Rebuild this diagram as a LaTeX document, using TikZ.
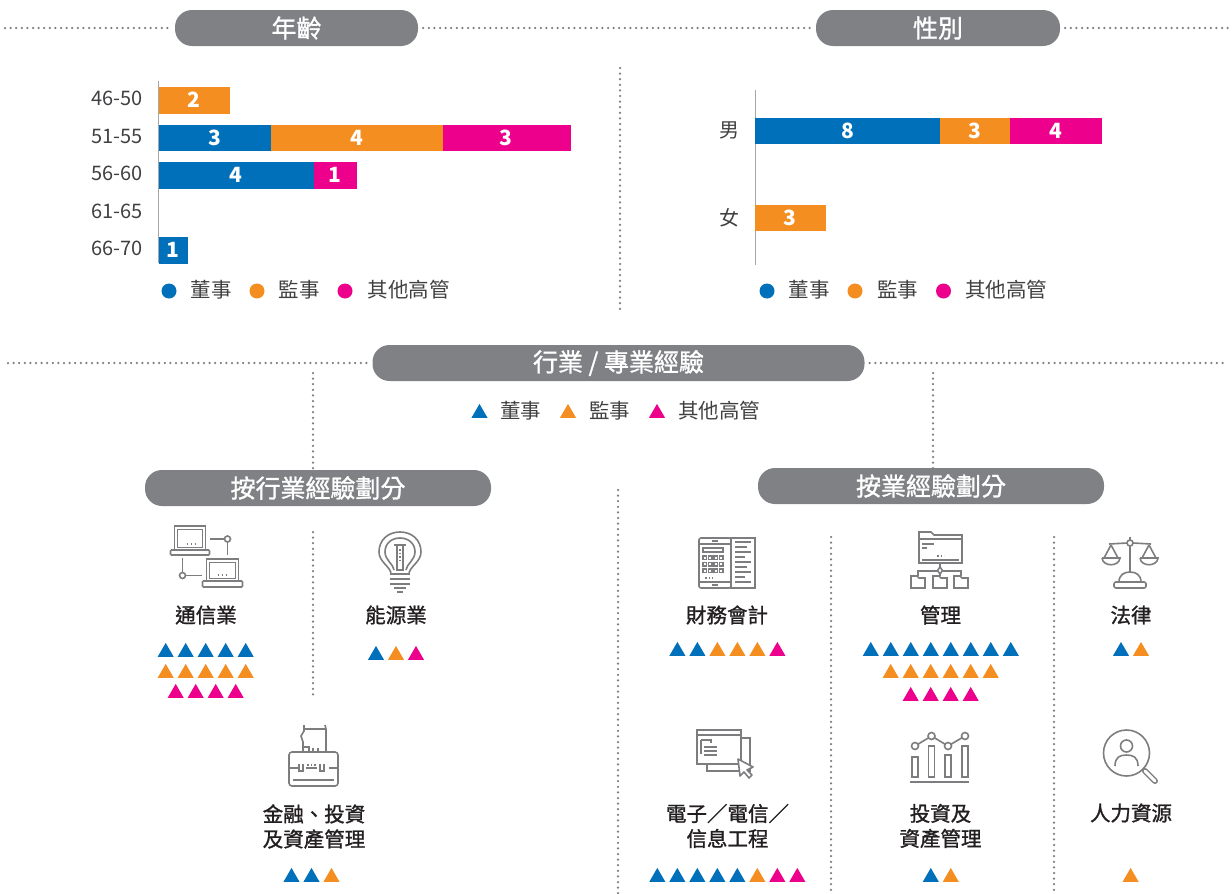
\documentclass[tikz,border=0pt]{standalone}
\usepackage{fontspec}
\setmainfont{Noto Sans CJK TC}
\newfontfamily\medfont{Noto Sans CJK TC}[FakeBold=1.2]
\usetikzlibrary{shapes.geometric}

\definecolor{bl}{RGB}{0,112,186}
\definecolor{og}{RGB}{245,142,32}
\definecolor{mg}{RGB}{236,0,140}
\definecolor{pg}{RGB}{128,129,132}
\definecolor{ic}{RGB}{125,125,128}
\definecolor{tx}{RGB}{35,31,32}
\definecolor{lg}{RGB}{64,64,66}
\definecolor{dt}{RGB}{125,125,130}

\tikzset{
  pill/.style={fill=pg, rounded corners=17pt, text=white, minimum height=36pt, inner sep=0pt, font=\fontsize{25}{28}\medfont},
  bar/.style={fill=#1, draw=#1, line width=0.4pt, anchor=west, minimum height=25.5pt, inner sep=0pt, text=white, font=\fontsize{21}{24}\selectfont\bfseries},
  dots/.style={dt, line width=2.5pt, dash pattern=on 0pt off 5.6pt, line cap=round},
  tri/.style={regular polygon, regular polygon sides=3, minimum size=18.5pt, inner sep=0pt, anchor=south},
  dot/.style={circle, minimum size=15pt, inner sep=0pt},
  leg/.style={text=lg, font=\fontsize{20.5}{24}\selectfont, inner sep=0pt},
  lbl/.style={text=tx, font=\fontsize{20.5}{25}\medfont, align=center, inner sep=0pt},
  ax/.style={text=lg, font=\fontsize{20}{24}\selectfont, inner sep=0pt},
  axis/.style={draw=black!35, line width=1.5pt},
  icon/.style={draw=ic, line width=1.6pt},
}

\newcommand\tris[4]{\foreach \col [count=\i] in {#4} \node[tri, fill=\col] (#1-\i) at ({#2+20*(\i-1)},#3) {};}

\begin{document}
\begin{tikzpicture}[x=1pt, y=-1pt]
\useasboundingbox (0,0) rectangle (1232,894);

\node[pill, minimum width=243pt] (age) at (296.5,28) {年齡};
\node[pill, minimum width=244pt] (sex) at (938,28) {性別};
\coordinate (t0) at (5,28);
\coordinate (t1) at (1229,28);
\draw[dots] (t0) -- ([xshift=-5pt]age.west);
\draw[dots] ([xshift=5pt]age.east) -- ([xshift=-5pt]sex.west);
\draw[dots] ([xshift=5pt]sex.east) -- (t1);
\coordinate (v0) at (620,68);
\coordinate (v1) at (620,313);
\draw[dots] (v0) -- (v1);

\draw[axis] (158.7,81) -- (158.7,263);
\foreach \t [count=\i] in {46-50,51-55,56-60,61-65,66-70}
  \node[ax, anchor=east] (age\i) at (143,{98.5+37.5*(\i-1)}) {\t};
\node[bar=og, minimum width=70.3pt] (a1o) at (158.7,100) {2};
\node[bar=bl, minimum width=112.3pt] (a2b) at (158.7,137.5) {3};
\node[bar=og, minimum width=170.7pt] (a2o) at (a2b.east) {4};
\node[bar=mg, minimum width=127.3pt] (a2m) at (a2o.east) {3};
\node[bar=bl, minimum width=154.8pt] (a3b) at (158.7,175) {4};
\node[bar=mg, minimum width=42.5pt] (a3m) at (a3b.east) {1};
\node[bar=bl, minimum width=27.8pt] (a5b) at (158.7,250) {1};

\node[dot, fill=bl] (ka1) at (169,291) {};
\node[leg] (ka1t) at (211,290) {董事};
\node[dot, fill=og] (ka2) at (257,291) {};
\node[leg] (ka2t) at (299,290) {監事};
\node[dot, fill=mg] (ka3) at (345,291) {};
\node[leg] (ka3t) at (408.5,290) {其他高管};

\draw[axis] (755.3,90) -- (755.3,265);
\node[ax] (male) at (729,130.5) {男};
\node[ax] (female) at (729,217.5) {女};
\node[bar=bl, minimum width=184.3pt] (m1) at (755.3,130.5) {8};
\node[bar=og, minimum width=69.4pt] (m2) at (m1.east) {3};
\node[bar=mg, minimum width=91.4pt] (m3) at (m2.east) {4};
\node[bar=og, minimum width=69.7pt] (f1) at (755.3,217.5) {3};

\node[dot, fill=bl] (kb1) at (767,291) {};
\node[leg] (kb1t) at (809,290) {董事};
\node[dot, fill=og] (kb2) at (855,291) {};
\node[leg] (kb2t) at (897.5,290) {監事};
\node[dot, fill=mg] (kb3) at (943.5,291) {};
\node[leg] (kb3t) at (1006,290) {其他高管};

\node[pill, minimum width=492pt] (exp) at (618.5,363) {行業 / 專業經驗};
\coordinate (e0) at (8,363);
\coordinate (e1) at (1224,363);
\draw[dots] (e0) -- ([xshift=-5pt]exp.west);
\draw[dots] ([xshift=5pt]exp.east) -- (e1);

\node[tri, fill=bl] (kc1) at (479.5,418) {};
\node[leg] (kc1t) at (520.5,411) {董事};
\node[tri, fill=og] (kc2) at (568,418) {};
\node[leg] (kc2t) at (609.5,411) {監事};
\node[tri, fill=mg] (kc3) at (657,418) {};
\node[leg] (kc3t) at (719,411) {其他高管};

\node[pill, minimum width=346pt] (ind) at (318,488) {按行業經驗劃分};
\node[pill, minimum width=346pt] (pro) at (931,486) {按業經驗劃分};
\coordinate (s1) at (313,373);
\coordinate (s2) at (933,373);
\draw[dots] (s1) -- ([yshift=-6pt]s1 |- ind.north);
\draw[dots] (s2) -- ([yshift=-6pt]s2 |- pro.north);
\coordinate (c0) at (618,490);
\coordinate (c1) at (618,894);
\draw[dots] (c0) -- (c1);
\coordinate (c2) at (313,532);
\coordinate (c3) at (313,698);
\draw[dots] (c2) -- (c3);
\coordinate (c4) at (831,537);
\coordinate (c5) at (831,894);
\draw[dots] (c4) -- (c5);
\coordinate (c6) at (1054,537);
\coordinate (c7) at (1054,894);
\draw[dots] (c6) -- (c7);

\begin{scope}[shift={(205.5,556)}, icon]
  \draw (-31,-6) rectangle (0,-30);
  \draw[line width=1pt] (-28,-9) rectangle (-3,-27);
  \draw[dash pattern=on 1.5pt off 2.5pt] (-19,-12) -- (-8,-12);
  \draw[rounded corners=1pt] (-35,-6) rectangle (4,-1);
  \draw (1,3) rectangle (33,25);
  \draw[line width=1pt] (4,6) rectangle (30,22);
  \draw[dash pattern=on 1.5pt off 2.5pt] (12,19) -- (23,19);
  \draw[rounded corners=1pt] (-3,25) rectangle (37,31);
  \draw (4,-17) -- (19,-17);
  \draw (22,-17) circle (3pt);
  \draw (22,-14) -- (22,-1);
  \draw (-23,2) -- (-23,16);
  \draw (-23,19.5) circle (3pt);
  \draw (-20,19.5) -- (-4,19.5);
\end{scope}

\begin{scope}[shift={(400,562)}, icon]
  \draw (-9,12) .. controls (-9,5) and (-21,0) .. (-21,-10) .. controls (-21,-22) and (-12,-30) .. (0,-30) .. controls (12,-30) and (21,-22) .. (21,-10) .. controls (21,0) and (9,5) .. (9,12);
  \draw (-6,8) .. controls (-6,3) and (-15,-2) .. (-15,-10) .. controls (-15,-19) and (-8,-24) .. (0,-24) .. controls (8,-24) and (15,-19) .. (15,-10) .. controls (15,-2) and (6,3) .. (6,8);
  \draw (-6,-17) -- (6,-17);
  \draw (-3,-17) rectangle (3,8);
  \draw[dash pattern=on 1.5pt off 2pt] (0,-13) -- (0,0);
  \draw (-10,12) -- (10,12);
  \draw (-10,17) -- (10,17);
  \draw (-10,22) -- (10,22);
  \draw (-6,26) -- (6,26);
  \draw (-3,30) -- (3,30);
\end{scope}

\begin{scope}[shift={(313,756)}, icon]
  \draw[rounded corners=3pt] (-24,-4) rectangle (25,30);
  \draw (-24,12) -- (-15,12);
  \draw (16,12) -- (25,12);
  \draw (-14,8) -- (-14,15) -- (-10,15) -- (-10,8);
  \draw (7,8) -- (7,15) -- (11,15) -- (11,8);
  \draw[dash pattern=on 1.5pt off 2pt] (-6,9) -- (4,9);
  \draw (-7,12) -- (4,12);
  \draw (-20,24) -- (21,24);
  \draw (-10,-4) -- (-10,-14) -- (-12,-20) -- (-9,-25) -- (-9,-31);
  \draw (13,-4) -- (13,-27) -- (12,-31);
  \draw (-9,-27) -- (13,-27);
  \draw (-10,-9) -- (-4,-9) -- (-4,-4);
  \draw (0,-4) -- (0,-8);
  \draw (5,-4) -- (5,-8);
\end{scope}

\begin{scope}[shift={(727,563)}, icon]
  \draw (4,-25) rectangle (28,25);
  \draw[rounded corners=2pt] (-28,-25) rectangle (4,25);
  \draw (-28,-19) -- (4,-19);
  \draw (-28,19) -- (4,19);
  \draw (-15,-22) -- (-9,-22);
  \draw (-15,22) -- (-9,22);
  \draw (-24,-15) rectangle (-4,-11);
  \foreach \i in {0,1,2,3} \foreach \j in {0,1,2}
    \draw[line width=1.2pt] ({-24+5.5*\i},{-7+6.5*\j}) rectangle ++(3.5,3.5);
  \draw[dash pattern=on 1.5pt off 2pt] (-22,15) -- (-14,15);
  \foreach \y/\w in {-21/16,-16/12,-11/16,-6/10,-1/16,4/12,9/16,14/10,19/16}
    \draw[line width=1.2pt] (8,\y) -- ({8+\w},\y);
\end{scope}

\begin{scope}[shift={(940,561)}, icon]
  \draw (-21,-29) -- (-9,-29) -- (-6,-26) -- (22,-26) -- (22,2) -- (-21,2) -- cycle;
  \draw (-21,-22) -- (22,-22);
  \draw (-18,-17) -- (-6,-17);
  \draw (-18,-13) -- (-13,-13);
  \draw[dash pattern=on 1.5pt off 2pt] (-3,-5) -- (4,-5);
  \draw (-18,-1) -- (19,-1);
  \draw (0,2) -- (0,6);
  \draw (-22,15) -- (-22,10) -- (21,10) -- (21,15);
  \draw (0,13) -- (0,15);
  \draw[fill=white] (0,6) -- (2.5,9.5) -- (0,13) -- (-2.5,9.5) -- cycle;
  \foreach \x in {-22,0,21}
    \draw ({\x-7},15) -- ({\x-1},15) -- ({\x+1},17) -- ({\x+7},17) -- ({\x+7},27) -- ({\x-7},27) -- cycle;
\end{scope}

\begin{scope}[shift={(1130,563)}, icon]
  \draw (-21,-19) -- (-3,-20);
  \draw (3,-20) -- (21,-19);
  \draw (0,-20) circle (3pt);
  \draw (0,-17) -- (0,9);
  \draw (0,-26) -- (0,-23);
  \draw (-19,-18) -- (-26,-5);
  \draw (-19,-18) -- (-12,-5);
  \draw (-28,-5) -- (-10,-5) .. controls (-11,4) and (-27,4) .. (-28,-5);
  \draw (19,-18) -- (12,-5);
  \draw (19,-18) -- (26,-5);
  \draw (10,-5) -- (28,-5) .. controls (27,4) and (11,4) .. (10,-5);
  \draw (-11,19) .. controls (-11,12) and (-6,9) .. (0,9) .. controls (6,9) and (11,12) .. (11,19);
  \draw[rounded corners=2pt] (-16,19) rectangle (16,25);
\end{scope}

\begin{scope}[shift={(727,754)}, icon]
  \draw (-20,-16) rectangle (23,17);
  \draw[fill=white] (-30,-24) rectangle (14,10);
  \draw (-30,-19) -- (14,-19);
  \draw (-26,-14) -- (-16,-14) -- (-16,-11);
  \draw (-26,-14) -- (-26,0);
  \draw (-23,-7) -- (-10,-7);
  \draw (-23,-3) -- (-10,-3);
  \draw (-23,1) -- (-10,1);
  \draw[fill=white, line join=round] (11,5) -- (13,22) -- (17,18) -- (22,24) -- (25,21) -- (20,16) -- (26,13) -- cycle;
\end{scope}

\begin{scope}[shift={(940,757)}, icon]
  \foreach \x/\t in {-25/0,-8.5/-11,8/-2,25/-11}
    \draw ({\x-3},\t) rectangle ({\x+3},20);
  \draw (-30,25) -- (29,25);
  \draw (-25,-11) -- (-8.5,-21) -- (8,-11) -- (25,-21);
  \foreach \x/\y in {-25/-11,-8.5/-21,8/-11,25/-21}
    \draw[fill=white] (\x,\y) circle (3.5pt);
\end{scope}

\begin{scope}[shift={(1130,757)}, icon]
  \draw (-3.5,-4) circle (23pt);
  \draw[line width=6pt, line cap=round] (15,14) -- (25,24);
  \draw[white, line width=3pt, line cap=round] (15,14) -- (25,24);
  \draw (-3.5,-11) circle (6pt);
  \draw (-15,9) .. controls (-15,0) and (-10,-2) .. (-3.5,-2) .. controls (3,-2) and (8,0) .. (8,9);
\end{scope}

\node[lbl] (tel) at (206,615) {通信業};
\node[lbl] (ene) at (396,615) {能源業};
\node[lbl] (fin) at (314,826.5) {金融、投資\\及資產管理};
\node[lbl] (acc) at (727,615) {財務會計};
\node[lbl] (man) at (940.5,615) {管理};
\node[lbl] (law) at (1131,615) {法律};
\node[lbl] (ele) at (727.5,826) {電子／電信／\\信息工程};
\node[lbl] (inv) at (940.5,826) {投資及\\資產管理};
\node[lbl] (hr) at (1131,813) {人力資源};

\tris{tel1}{165.7}{657}{bl,bl,bl,bl,bl}
\tris{tel2}{165.7}{678}{og,og,og,og,og}
\tris{tel3}{175.7}{698}{mg,mg,mg,mg}
\tris{ene}{376}{660}{bl,og,mg}
\tris{fin}{291.5}{882}{bl,bl,og}
\tris{acc}{677.4}{656}{bl,bl,og,og,og,mg}
\tris{man1}{870.8}{656}{bl,bl,bl,bl,bl,bl,bl,bl}
\tris{man2}{890.7}{678}{og,og,og,og,og,og}
\tris{man3}{910.7}{701}{mg,mg,mg,mg}
\tris{law}{1121}{656}{bl,og}
\tris{ele}{657.3}{882}{bl,bl,bl,bl,bl,og,mg,mg}
\tris{inv}{930.8}{882}{bl,og}
\tris{hr}{1130.6}{882}{og}
\end{tikzpicture}
\end{document}
